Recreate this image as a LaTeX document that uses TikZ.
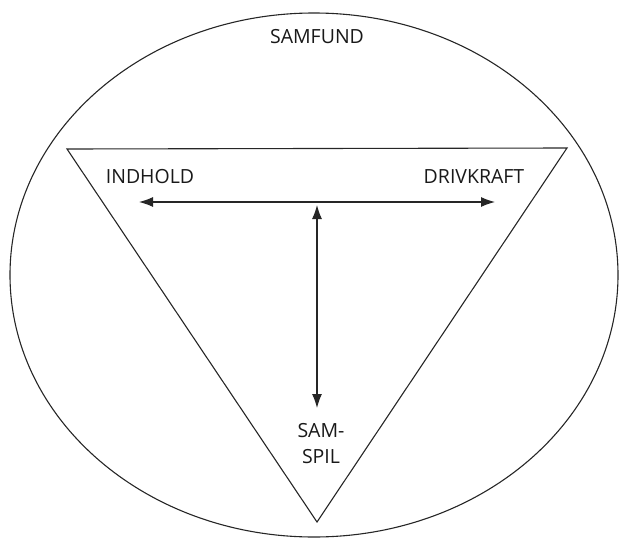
\documentclass[tikz,border=0pt]{standalone}
\usepackage{fontspec}
\setmainfont{Open Sans}
\usetikzlibrary{arrows.meta}
\begin{document}
\begin{tikzpicture}[x=1pt,y=-1pt,
  line/.style={draw=black!85, line width=1.1pt},
  lbl/.style={font=\fontsize{19.5}{26}\selectfont, inner sep=0pt, text=black!90},
  dbl/.style={line, {Latex[length=14pt,width=10pt]}-{Latex[length=14pt,width=10pt]}}]
\useasboundingbox (0,0) rectangle (619,541);
\draw[line] (314,275) ellipse [x radius=304, y radius=262];
\coordinate (tl) at (67,149);
\coordinate (tr) at (567,148);
\coordinate (bt) at (317,522);
\draw[line, line join=miter] (tl) -- (tr) -- (bt) -- cycle;
\node[lbl, anchor=base] (samfund) at (317,43) {SAMFUND};
\node[lbl, anchor=base] (indhold) at (150,183) {INDHOLD};
\node[lbl, anchor=base] (drivkraft) at (474,183) {DRIVKRAFT};
\node[lbl, align=center, anchor=base] (samspil) at (321,463) {SAM-\\SPIL};
\coordinate (hl) at (139,202);
\coordinate (hr) at (495,202);
\coordinate (vt) at (317,205);
\coordinate (vb) at (317,408);
\draw[dbl] (hl) -- (hr);
\draw[dbl] (vt) -- (vb);
\end{tikzpicture}
\end{document}
